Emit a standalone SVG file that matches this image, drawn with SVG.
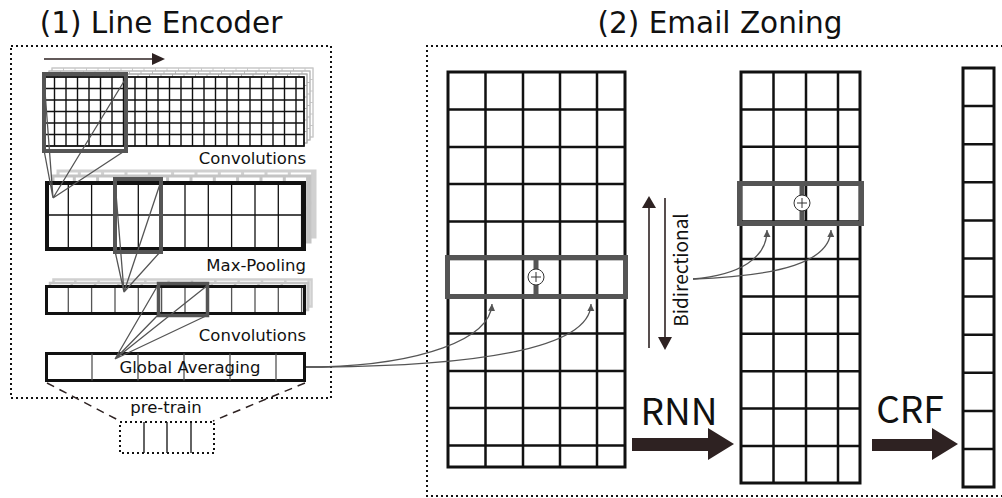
<svg xmlns="http://www.w3.org/2000/svg" xmlns:xlink="http://www.w3.org/1999/xlink" width="1002" height="498" viewBox="0 0 1002 498">
<defs>
<style>
.title{font-family:"DejaVu Sans",sans-serif;font-size:29.5px;fill:#111}
.lbl{font-family:"DejaVu Sans",sans-serif;font-size:16.5px;fill:#111}
.big{font-family:"Noto Sans CJK JP","DejaVu Sans",sans-serif;font-size:37px;fill:#111}
.bi{font-family:"Noto Sans CJK JP","DejaVu Sans",sans-serif;font-size:19px;fill:#111}
.dotbox{fill:none;stroke:#111;stroke-width:2;stroke-dasharray:2 3}
.thin{fill:none;stroke:#111;stroke-width:1.3}
.thing{fill:none;stroke:#555;stroke-width:1.3}
.hl{fill:none;stroke:#555}
.grid{fill:none;stroke:#111;stroke-width:2.5}
.outer{fill:#fff;stroke:#111;stroke-width:3}
.conn{fill:none;stroke:#555;stroke-width:1.3}
.dark{fill:#2e2222}
</style>
<marker id="ah" markerWidth="8" markerHeight="8" refX="7" refY="4" orient="auto" markerUnits="userSpaceOnUse">
<path d="M0,0.5 L7,4 L0,7.5 Z" fill="#555"/>
</marker>
<g id="convgrid">
<rect x="43" y="77" width="261" height="69" fill="#fff"/>
<path d="M54.5,77V146M66,77V146M77.5,77V146M89,77V146M100.5,77V146M112,77V146M123.5,77V146M135,77V146M146.5,77V146M158,77V146M169.5,77V146M181,77V146M192.5,77V146M204,77V146M215.5,77V146M227,77V146M238.5,77V146M250,77V146M261.5,77V146M273,77V146M284.5,77V146M296,77V146M43,88.5H304M43,100H304M43,111.5H304M43,123H304M43,134.5H304"/>
<rect x="43" y="77" width="261" height="69" fill="none"/>
</g>
<g id="poolgrid">
<rect x="47" y="183" width="257" height="66" fill="#fff"/>
<path d="M68.3,183V249M91.6,183V249M115,183V249M138.3,183V249M161.6,183V249M185,183V249M208.3,183V249M231.6,183V249M255,183V249M278.3,183V249M301.6,183V249M47,215H304"/>
</g>
<g id="conv2grid">
<rect x="46.5" y="286.5" width="258" height="27" fill="#fff"/>
<path d="M68.3,286.5V313.5M91.6,286.5V313.5M115,286.5V313.5M138.3,286.5V313.5M161.6,286.5V313.5M185,286.5V313.5M208.3,286.5V313.5M231.6,286.5V313.5M255,286.5V313.5M278.3,286.5V313.5M301.6,286.5V313.5"/>
</g>
</defs>
<rect width="1002" height="498" fill="#fff"/>

<g id="title-line-encoder"><text class="title" x="161" y="33" text-anchor="middle">(1) Line Encoder</text></g>
<g id="title-email-zoning"><text class="title" x="720" y="33" text-anchor="middle">(2) Email Zoning</text></g>

<g id="panel-line-encoder"><rect class="dotbox" x="11" y="46" width="320" height="352"/></g>
<g id="panel-email-zoning"><path class="dotbox" d="M1003,46H427V496H1003"/></g>

<g id="direction-arrow">
<line x1="44" y1="59" x2="153" y2="59" stroke="#2e2222" stroke-width="1.6"/>
<polygon class="dark" points="152,53 165,59 152,65"/>
</g>

<g id="conv-layer">
<use xlink:href="#convgrid" transform="translate(9,-9)" stroke="#c8c8c8" stroke-width="1"/>
<use xlink:href="#convgrid" transform="translate(6,-6)" stroke="#bbbbbb" stroke-width="1"/>
<use xlink:href="#convgrid" transform="translate(3,-3)" stroke="#aaaaaa" stroke-width="1"/>
<use xlink:href="#convgrid" stroke="#111" stroke-width="1.4"/>
<rect class="hl" x="44" y="74" width="82" height="77" stroke-width="4"/>
<text class="lbl" x="306" y="164" text-anchor="end">Convolutions</text>
</g>

<g id="maxpool-layer">
<use xlink:href="#poolgrid" transform="translate(11,-12)" stroke="#d0d0d0" stroke-width="3"/>
<use xlink:href="#poolgrid" transform="translate(6,-7)" stroke="#c4c4c4" stroke-width="3"/>
<use xlink:href="#poolgrid" stroke="#111" stroke-width="1.3"/>
<rect x="47" y="183" width="257" height="66" fill="none" stroke="#111" stroke-width="4"/>
<rect class="hl" x="115" y="179" width="46" height="73" stroke-width="4"/>
<text class="lbl" x="306" y="271" text-anchor="end">Max-Pooling</text>
</g>

<g id="conv2-layer">
<use xlink:href="#conv2grid" transform="translate(7,-7)" stroke="#d0d0d0" stroke-width="2.5"/>
<use xlink:href="#conv2grid" transform="translate(3.5,-3.5)" stroke="#c4c4c4" stroke-width="2.5"/>
<use xlink:href="#conv2grid" stroke="#555" stroke-width="1.3"/>
<rect x="46.5" y="286.5" width="258" height="27" fill="none" stroke="#111" stroke-width="3"/>
<rect class="hl" x="158.5" y="283.5" width="49" height="32" stroke-width="3.5"/>
<text class="lbl" x="306" y="341" text-anchor="end">Convolutions</text>
</g>

<g id="global-averaging">
<rect class="outer" x="46.5" y="353.5" width="258" height="27"/>
<path class="thing" d="M92,353.5V380.5M138,353.5V380.5M184,353.5V380.5M230,353.5V380.5M276,353.5V380.5"/>
<text class="lbl" x="190" y="373" text-anchor="middle">Global Averaging</text>
</g>

<g id="pretrain">
<path d="M47,383L120,421M305,383L213,421" fill="none" stroke="#2e2222" stroke-width="1.5" stroke-dasharray="8 6"/>
<text class="lbl" x="166" y="413" text-anchor="middle">pre-train</text>
<rect class="dotbox" x="120" y="422" width="94" height="31"/>
<path class="thin" d="M144,422V453M167,422V453M191,422V453"/>
</g>

<g id="grid-rnn-input">
<rect class="outer" x="448" y="72" width="177" height="395"/>
<path class="grid" d="M485.5,72V467M523,72V467M560,72V467M597,72V467M448,109.5H625M448,147H625M448,184H625M448,221.5H625M448,259H625M448,296H625M448,333.5H625M448,371H625M448,408H625M448,445.5H625"/>
<rect class="hl" x="447.5" y="257.5" width="178" height="39" stroke-width="5"/>
<line x1="536" y1="257" x2="536" y2="297" stroke="#555" stroke-width="5"/>
<circle cx="536" cy="277" r="8" fill="#fff" stroke="#333" stroke-width="1"/>
<path d="M531,277H541M536,272V282" stroke="#333" stroke-width="1" fill="none"/>
</g>

<g id="grid-rnn-output">
<rect class="outer" x="741" y="72" width="119" height="411"/>
<path class="grid" d="M773.5,72V483M806,72V483M838,72V483M741,109.4H860M741,146.8H860M741,184.2H860M741,221.6H860M741,259H860M741,296.4H860M741,333.8H860M741,371.2H860M741,408.6H860M741,446H860"/>
<rect class="hl" x="739.5" y="183.5" width="122" height="40" stroke-width="5"/>
<line x1="802" y1="183" x2="802" y2="224" stroke="#555" stroke-width="5"/>
<circle cx="802" cy="203" r="8" fill="#fff" stroke="#333" stroke-width="1"/>
<path d="M797,203H807M802,198V208" stroke="#333" stroke-width="1" fill="none"/>
</g>

<g id="grid-crf-output">
<rect class="outer" x="963" y="68" width="31" height="419"/>
<path class="grid" d="M963,106.1H994M963,144.2H994M963,182.3H994M963,220.4H994M963,258.5H994M963,296.6H994M963,334.7H994M963,372.8H994M963,410.9H994M963,449H994"/>
</g>

<g id="bidirectional">
<line x1="649" y1="206" x2="649" y2="348" stroke="#2e2222" stroke-width="1.6"/>
<polygon class="dark" points="642,208 649,196 656,208"/>
<line x1="665" y1="198" x2="665" y2="339" stroke="#2e2222" stroke-width="1.6"/>
<polygon class="dark" points="658,337 665,350 672,337"/>
<text class="bi" transform="translate(688,270) rotate(-90)" text-anchor="middle">Bidirectional</text>
</g>

<g id="rnn-step">
<text class="big" x="679" y="425" text-anchor="middle">RNN</text>
<polygon class="dark" points="632,438 708,438 708,428 734,444 708,460 708,451 632,451"/>
</g>

<g id="crf-step">
<text class="big" x="910" y="423" text-anchor="middle">CRF</text>
<polygon class="dark" points="872,439 932,439 932,428 958,444 932,460 932,451 872,451"/>
</g>

<g id="connectors">
<path class="conn" d="M44,78L53,198M44,150L53,198M126,78L53,198M126,150L53,198"/>
<path class="conn" d="M115,181L124,292M115,251L124,292M161,181L124,292M161,251L124,292"/>
<path class="conn" d="M158,285L115,359M158,315L115,359M208,285L115,359M208,315L115,359"/>
<path class="conn" d="M306,367H322C420,364 490,340 492,304" marker-end="url(#ah)"/>
<path class="conn" d="M306,367H322C470,366 590,350 591,304" marker-end="url(#ah)"/>
<path class="conn" d="M693,279C740,275 767,258 767,230" marker-end="url(#ah)"/>
<path class="conn" d="M693,279C780,276 830,262 831,230" marker-end="url(#ah)"/>
</g>
</svg>
